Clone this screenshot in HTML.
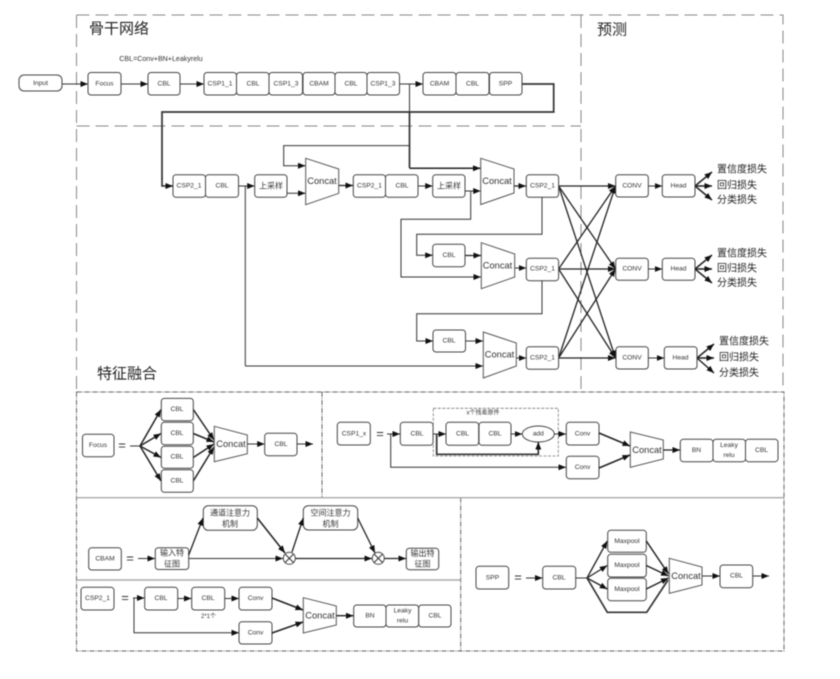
<!DOCTYPE html>
<html lang="zh">
<head>
<meta charset="utf-8">
<title>YOLO network diagram</title>
<style>
html,body{margin:0;padding:0;background:#fff;width:840px;height:679px;overflow:hidden}
svg{display:block;filter:blur(.5px)}
text{font-family:"Liberation Sans","Noto Sans CJK SC",sans-serif;font-size:6.7px;text-anchor:middle;dominant-baseline:central;fill:#333}
.b{fill:#fff;stroke:#444;stroke-width:1}
.l{fill:none;stroke:#333;stroke-width:1}
.a{fill:none;stroke:#333;stroke-width:1;marker-end:url(#m)}
.t{fill:none;stroke:#222;stroke-width:1.5;marker-end:url(#m)}
.x{fill:none;stroke:#222;stroke-width:1.3;marker-end:url(#m)}
.k{fill:none;stroke:#333;stroke-width:1.7}
.tr{fill:#fff;stroke:#555;stroke-width:1}
.d1{fill:none;stroke:#888;stroke-width:1;stroke-dasharray:13 6}
.d2{fill:none;stroke:#666;stroke-width:1;stroke-dasharray:5 1 1 1}
.s{fill:none;stroke:#aaa;stroke-width:1.4}
.c{font-size:9.3px}
.c2{font-size:9.3px}
.h{font-size:15px;text-anchor:start;fill:#222}
.o{font-size:10px;text-anchor:start;fill:#222}
.z{font-size:6px}
.e{font-size:13px}
</style>
</head>
<body>
<svg width="840" height="679" viewBox="0 0 840 679" xmlns="http://www.w3.org/2000/svg">
<defs>
<marker id="m" markerUnits="userSpaceOnUse" markerWidth="8" markerHeight="7" refX="7.5" refY="3" orient="auto"><path d="M0 0L7.5 3L0 6z" fill="#111"/></marker>
</defs>

<!-- top frames -->
<path class="d1" d="M76.5 15H783V392"/>
<path class="d1" d="M76.5 15V392"/>
<path class="d1" d="M76.5 126H581"/>
<path class="d1" d="M581 15V392"/>
<text class="h" x="89" y="29">骨干网络</text>
<text class="h" x="597" y="30">预测</text>
<text class="h" x="97" y="374">特征融合</text>
<text x="161" y="59" style="font-size:7.1px">CBL=Conv+BN+Leakyrelu</text>

<!-- lower frames -->
<path class="d2" d="M76.5 392H784V651H76.5z"/>
<path class="d2" d="M322 392V497.5"/>
<path class="d2" d="M460.7 497.5V651"/>
<path class="s" d="M76.5 497.7H784M76.5 580H460.7"/>

<!-- backbone row connectors -->
<path class="a" d="M62 84H88"/>
<path class="a" d="M121 84H148"/>
<path class="a" d="M180 84H204"/>
<path class="a" d="M399.5 84H423"/>
<path class="k" d="M522 84H553.7V112H162V179"/>
<path class="t" d="M162 178V186H173"/>
<path class="l" d="M409.5 84V112"/>
<path class="k" d="M409.5 112V168"/>
<path class="t" d="M409.5 168.3H480.5"/>
<path class="a" d="M409.5 145.6H283.7V165.7H305.5"/>

<!-- backbone boxes -->
<rect class="b" x="19" y="75" width="43" height="16" rx="5"/><text x="40.5" y="83.5">Input</text>
<rect class="b" x="88" y="72.5" width="33" height="22.5" rx="3"/><text x="104.5" y="84">Focus</text>
<rect class="b" x="148" y="72.5" width="32" height="22.5" rx="3"/><text x="164" y="84">CBL</text>
<rect class="b" x="204" y="72.5" width="32.5" height="22.5" rx="3"/><text x="220" y="84">CSP1_1</text>
<rect class="b" x="236.5" y="72.5" width="32.5" height="22.5" rx="3"/><text x="253" y="84">CBL</text>
<rect class="b" x="269" y="72.5" width="33.5" height="22.5" rx="3"/><text x="286" y="84">CSP1_3</text>
<rect class="b" x="303" y="72.5" width="32" height="22.5" rx="3"/><text x="319" y="84">CBAM</text>
<rect class="b" x="335" y="72.5" width="32" height="22.5" rx="3"/><text x="351" y="84">CBL</text>
<rect class="b" x="367" y="72.5" width="32.5" height="22.5" rx="3"/><text x="383" y="84">CSP1_3</text>
<rect class="b" x="423" y="72.5" width="33" height="22.5" rx="3"/><text x="439.5" y="84">CBAM</text>
<rect class="b" x="456" y="72.5" width="33" height="22.5" rx="3"/><text x="472.5" y="84">CBL</text>
<rect class="b" x="489.5" y="72.5" width="32.5" height="22.5" rx="3"/><text x="505.5" y="84">SPP</text>

<!-- neck connectors -->
<path class="a" d="M238.5 186H254.7"/>
<path class="l" d="M245.3 186V366"/>
<path class="a" d="M245.3 366H483"/>
<path class="a" d="M287 193.3H305.5"/>
<path class="x" d="M338.7 185.5H353"/>
<path class="a" d="M418 186H432.7"/>
<path class="a" d="M465 191H480.7"/>
<path class="a" d="M470.7 191V219.3H401V277H481"/>
<path class="x" d="M514 186H526"/>
<path class="a" d="M542 197V234.3H416.7V255.3H432.7"/>
<path class="x" d="M465 255.5H481"/>
<path class="a" d="M514.7 268H526.3"/>
<path class="a" d="M542 280.7V313.7H416.7V341H433"/>
<path class="a" d="M465.5 341H483"/>
<path class="a" d="M516.3 358H526.3"/>

<!-- crossing connectors -->
<path class="x" d="M558.6 186H615.5"/>
<path class="x" d="M558.6 186L615.5 269"/>
<path class="x" d="M558.6 186L615.5 358"/>
<path class="x" d="M558.6 269L615.5 186"/>
<path class="x" d="M558.6 269H615.5"/>
<path class="x" d="M558.6 269L615.5 358"/>
<path class="x" d="M558.6 358L615.5 186"/>
<path class="x" d="M558.6 358L615.5 269"/>
<path class="x" d="M558.6 358H615.5"/>

<!-- heads connectors -->
<path class="a" d="M648.3 186H662.3"/>
<path class="a" d="M648.3 269H662.3"/>
<path class="a" d="M648.3 358H664.3"/>
<path class="t" d="M695 186L712 172"/><path class="t" d="M695 186H712"/><path class="t" d="M695 186L712 200"/>
<path class="t" d="M695 269L712 255"/><path class="t" d="M695 269H712"/><path class="t" d="M695 269L712 283"/>
<path class="t" d="M697 358L714 344"/><path class="t" d="M697 358H714"/><path class="t" d="M697 358L714 373"/>

<!-- neck boxes -->
<rect class="b" x="173" y="174.7" width="32.5" height="22.6" rx="3"/><text x="189" y="186">CSP2_1</text>
<rect class="b" x="205.5" y="174.7" width="33" height="22.6" rx="3"/><text x="222" y="186">CBL</text>
<rect class="b" x="254.7" y="174.7" width="32.3" height="22.6" rx="3"/><text x="271" y="186" style="font-size:8px">上采样</text>
<path class="tr" d="M305.7 158.3L338.7 169V193.3L305.7 204.7z"/><text class="c" x="322" y="181">Concat</text>
<rect class="b" x="353.3" y="174.7" width="32.2" height="22.6" rx="3"/><text x="369.5" y="186">CSP2_1</text>
<rect class="b" x="385.5" y="174.7" width="32.5" height="22.6" rx="3"/><text x="402" y="186">CBL</text>
<rect class="b" x="432.7" y="174.7" width="32.3" height="22.6" rx="3"/><text x="449" y="186" style="font-size:8px">上采样</text>
<path class="tr" d="M480.7 158.3L514 169V193L480.7 204.5z"/><text class="c" x="497" y="181">Concat</text>
<rect class="b" x="526.3" y="174.7" width="32.3" height="22.6" rx="3"/><text x="542.5" y="186">CSP2_1</text>
<rect class="b" x="432.7" y="244.3" width="32.3" height="22.4" rx="3"/><text x="449" y="255.5">CBL</text>
<path class="tr" d="M481.3 242.7L514.7 254V277L481.3 288.7z"/><text class="c" x="497.5" y="265.5">Concat</text>
<rect class="b" x="526.3" y="258.3" width="32.3" height="22.4" rx="3"/><text x="542.5" y="269">CSP2_1</text>
<rect class="b" x="433" y="330" width="32.5" height="22" rx="3"/><text x="449" y="341">CBL</text>
<path class="tr" d="M483.3 332L516.3 343V366L483.3 378z"/><text class="c" x="499.5" y="354.5">Concat</text>
<rect class="b" x="526.3" y="346.7" width="32.3" height="22.6" rx="3"/><text x="542.5" y="358">CSP2_1</text>

<!-- prediction boxes -->
<rect class="b" x="615.7" y="174.7" width="32.6" height="22.3" rx="3"/><text x="632" y="186">CONV</text>
<rect class="b" x="662.3" y="174.7" width="32.7" height="22.3" rx="3"/><text x="678.5" y="186">Head</text>
<rect class="b" x="615.7" y="258.3" width="32.6" height="22" rx="3"/><text x="632" y="269">CONV</text>
<rect class="b" x="662.3" y="258.3" width="32.7" height="22" rx="3"/><text x="678.5" y="269">Head</text>
<rect class="b" x="616" y="346.7" width="32.3" height="22.3" rx="3"/><text x="632" y="358">CONV</text>
<rect class="b" x="664.3" y="346.7" width="32.7" height="22.3" rx="3"/><text x="680.5" y="358">Head</text>
<text class="o" x="717" y="170">置信度损失</text><text class="o" x="717" y="186">回归损失</text><text class="o" x="717" y="200.5">分类损失</text>
<text class="o" x="717" y="254">置信度损失</text><text class="o" x="717" y="269">回归损失</text><text class="o" x="717" y="283.5">分类损失</text>
<text class="o" x="719" y="342">置信度损失</text><text class="o" x="719" y="358">回归损失</text><text class="o" x="719" y="373.5">分类损失</text>

<!-- Focus -->
<rect class="b" x="82.5" y="434.3" width="31.5" height="22.4" rx="3"/><text x="98" y="445.5">Focus</text>
<text class="e" x="122" y="445">=</text>
<path class="l" d="M130 446H140"/>
<path class="t" d="M140 446L161 409.5"/><path class="t" d="M140 446L161 433.5"/><path class="t" d="M140 446L161 457.5"/><path class="t" d="M140 446L161 481"/>
<path class="t" d="M193.3 409.5L214 440"/><path class="t" d="M193.3 433.5L214 442"/><path class="t" d="M193.3 457.5L214 444"/><path class="t" d="M193.3 481L214 447"/>
<rect class="b" x="161.3" y="398.4" width="32" height="22.3" rx="3"/><text x="177" y="409.5">CBL</text>
<rect class="b" x="161.3" y="422.3" width="32" height="22.4" rx="3"/><text x="177" y="433.5">CBL</text>
<rect class="b" x="161.3" y="446.3" width="32" height="22" rx="3"/><text x="177" y="457">CBL</text>
<rect class="b" x="161.3" y="469.7" width="32" height="22.6" rx="3"/><text x="177" y="481">CBL</text>
<path class="tr" d="M214.3 426.3L247.3 435V453.7L214.3 461.7z"/><text class="c2" x="231" y="444">Concat</text>
<path class="a" d="M247.3 444H264.7"/>
<rect class="b" x="264.7" y="433.3" width="32.3" height="22.4" rx="3"/><text x="281" y="444.5">CBL</text>
<path class="a" d="M297 444H313"/>

<!-- CSP1_x -->
<rect class="b" x="337.3" y="422.3" width="33" height="22.7" rx="3"/><text x="354" y="434">CSP1_x</text>
<text class="e" x="380" y="433.5">=</text>
<path class="a" d="M387 434H400"/>
<path class="a" d="M390.7 434V467.3H566"/>
<rect class="b" x="400.3" y="422.3" width="32.7" height="23" rx="3"/><text x="417" y="434">CBL</text>
<rect fill="none" stroke="#777" stroke-width=".8" stroke-dasharray="3 1.5" x="433.3" y="408.3" width="125" height="47.7"/>
<text class="z" x="483" y="413.5">x个残差原件</text>
<path class="a" d="M433 434H446"/>
<path class="k" d="M436.7 434V454.3H538.3V444"/>
<path class="t" d="M538.3 450V442"/>
<rect class="b" x="446" y="422.3" width="32.7" height="23" rx="3"/><text x="462.5" y="434">CBL</text>
<rect class="b" x="479" y="422.3" width="32" height="23" rx="3"/><text x="495" y="434">CBL</text>
<path class="a" d="M511 434H522.3"/>
<ellipse class="b" cx="538.3" cy="434" rx="16" ry="8"/><text x="538.3" y="434">add</text>
<path class="a" d="M554.3 434H566"/>
<rect class="b" x="566.3" y="422.3" width="32.7" height="22.7" rx="3"/><text x="582.5" y="434">Conv</text>
<rect class="b" x="566.3" y="456.3" width="32.7" height="22.4" rx="3"/><text x="582.5" y="467.5">Conv</text>
<path class="t" d="M599 433L630 446"/><path class="t" d="M599 468L630 455"/>
<path class="tr" d="M630.3 432L663.3 440V459L630.3 467.3z"/><text class="c2" x="647" y="450">Concat</text>
<path class="x" d="M663.3 450H680"/>
<rect class="b" x="680.3" y="439.3" width="32.7" height="22.4" rx="3"/><text x="696.5" y="450.5">BN</text>
<rect class="b" x="713" y="439.3" width="32.5" height="22.4" rx="3"/><text x="729" y="445.5">Leaky</text><text x="729" y="455.5">relu</text>
<rect class="b" x="745.5" y="439.3" width="32.5" height="22.4" rx="3"/><text x="761.5" y="450.5">CBL</text>

<!-- CBAM -->
<rect class="b" x="88.7" y="547.7" width="32.6" height="22.3" rx="3"/><text x="105" y="559">CBAM</text>
<text class="e" x="130" y="558">=</text>
<path class="a" d="M138 558.5H155"/>
<rect class="b" x="155.3" y="547.7" width="33.4" height="21.8" rx="3"/><text x="172" y="553" style="font-size:8px">输入特</text><text x="172" y="564" style="font-size:8px">征图</text>
<rect class="b" x="203.3" y="505.7" width="54" height="24.6" rx="5"/><text x="230" y="513" style="font-size:8px">通道注意力</text><text x="230" y="524" style="font-size:8px">机制</text>
<rect class="b" x="303.3" y="505.7" width="54.4" height="24.3" rx="5"/><text x="330.5" y="513" style="font-size:8px">空间注意力</text><text x="330.5" y="524" style="font-size:8px">机制</text>
<path class="x" d="M188.7 555L203 518"/>
<path class="a" d="M188.7 558.5H283"/>
<path class="t" d="M257.3 518L285 553"/>
<path class="x" d="M292 552L303.3 518"/>
<path class="x" d="M295.5 558.5H372"/>
<path class="x" d="M357.7 518L375 553"/>
<path class="x" d="M384.5 558.5H406"/>
<circle class="b" cx="289.3" cy="558.3" r="6"/><path class="l" d="M285 554L293.6 562.6M285 562.6L293.6 554"/>
<circle class="b" cx="378.3" cy="558.3" r="6"/><path class="l" d="M374 554L382.6 562.6M374 562.6L382.6 554"/>
<rect class="b" x="406.3" y="548.3" width="32.4" height="21.4" rx="3"/><text x="422.5" y="553.5" style="font-size:8px">输出特</text><text x="422.5" y="564" style="font-size:8px">征图</text>

<!-- CSP2_1 detail -->
<rect class="b" x="81" y="587.3" width="33" height="22.7" rx="3"/><text x="97.5" y="598.5">CSP2_1</text>
<text class="e" x="125" y="597.5">=</text>
<path class="a" d="M133 598H144.5"/>
<path class="a" d="M134 598V632.7H239"/>
<rect class="b" x="144.7" y="587.3" width="33" height="22.7" rx="3"/><text x="161" y="598.5">CBL</text>
<path class="a" d="M177.7 598.5H191.5"/>
<rect class="b" x="191.7" y="587.3" width="33" height="22.7" rx="3"/><text x="208" y="598.5">CBL</text>
<text class="z" x="208.5" y="617">2*1个</text>
<path class="a" d="M224.7 598.5H239"/>
<rect class="b" x="239" y="587.3" width="33" height="22.7" rx="3"/><text x="255.5" y="598.5">Conv</text>
<rect class="b" x="239" y="621.7" width="33" height="22.3" rx="3"/><text x="255.5" y="633">Conv</text>
<path class="t" d="M272 598L303 610"/><path class="t" d="M272 633L303 622"/>
<path class="tr" d="M303.3 597.7L336.3 606V625L303.3 633z"/><text class="c2" x="320" y="615.5">Concat</text>
<path class="x" d="M336.3 615.7H353.5"/>
<rect class="b" x="353.7" y="605" width="32.3" height="22" rx="3"/><text x="370" y="616">BN</text>
<rect class="b" x="386" y="605" width="32.7" height="22" rx="3"/><text x="402.5" y="611">Leaky</text><text x="402.5" y="621">relu</text>
<rect class="b" x="418.7" y="605" width="32.3" height="22" rx="3"/><text x="435" y="616">CBL</text>

<!-- SPP -->
<rect class="b" x="476" y="566.3" width="32.7" height="22.7" rx="3"/><text x="492.5" y="578">SPP</text>
<text class="e" x="518" y="577">=</text>
<path class="a" d="M526 578H542.5"/>
<rect class="b" x="542.7" y="566.3" width="33" height="22.7" rx="3"/><text x="559" y="578">CBL</text>
<path class="l" d="M575.7 578H587"/>
<path class="x" d="M587 578L607.3 541"/><path class="x" d="M587 578L607.3 565.5"/><path class="x" d="M587 578L607.3 589"/>
<path class="k" d="M587 578L607.3 612.3H646.7L668 580"/>
<rect class="b" x="607.7" y="530.3" width="38.6" height="22" rx="3"/><text x="627" y="541.5">Maxpool</text>
<rect class="b" x="607.7" y="554.3" width="38.6" height="22.7" rx="3"/><text x="627" y="565.5">Maxpool</text>
<rect class="b" x="607.7" y="578.3" width="38.6" height="22.4" rx="3"/><text x="627" y="589.5">Maxpool</text>
<path class="t" d="M646.3 541L668.5 574"/><path class="t" d="M646.3 565.5L668.5 576"/><path class="t" d="M646.3 589L668.5 578"/>
<path class="tr" d="M669.3 558.3L702 567V585L669.3 593.3z"/><text class="c2" x="686" y="576">Concat</text>
<path class="a" d="M702 576H720"/>
<rect class="b" x="720" y="565" width="32.7" height="22.7" rx="3"/><text x="736.5" y="576">CBL</text>
<path class="a" d="M752.7 576H769"/>
</svg>
</body>
</html>
